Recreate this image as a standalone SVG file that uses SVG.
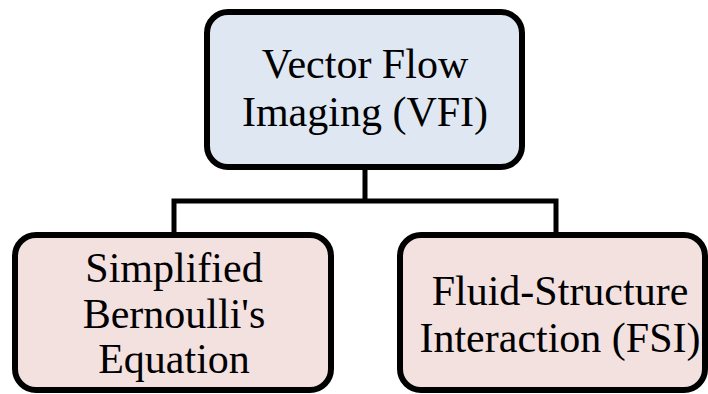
<svg xmlns="http://www.w3.org/2000/svg" width="708" height="394" viewBox="0 0 708 394">
<style>
.box{stroke:#000;stroke-width:6}
.top{fill:#dfe7f2}
.bot{fill:#f3e1e0}
.conn{fill:none;stroke:#000;stroke-width:5}
text{font-family:"Liberation Serif","Times New Roman",serif;font-size:42px;fill:#000;text-anchor:middle}
</style>
<rect width="708" height="394" fill="#fff"/>
<g id="connectors">
<path class="conn" d="M365 167 V201 M174 233 V201 H556 V233"/>
</g>
<g id="vfi">
<rect class="box top" x="207" y="12" width="315" height="155" rx="21"/>
<text x="365" y="78">Vector Flow</text>
<text x="365" y="126">Imaging (VFI)</text>
</g>
<g id="bernoulli">
<rect class="box bot" x="15" y="235" width="316" height="155" rx="21"/>
<text x="174" y="282">Simplified</text>
<text x="174" y="328">Bernoulli's</text>
<text x="174" y="373">Equation</text>
</g>
<g id="fsi">
<rect class="box bot" x="400" y="235" width="305" height="155" rx="21"/>
<text x="560" y="305">Fluid-Structure</text>
<text x="560" y="352">Interaction (FSI)</text>
</g>
</svg>
